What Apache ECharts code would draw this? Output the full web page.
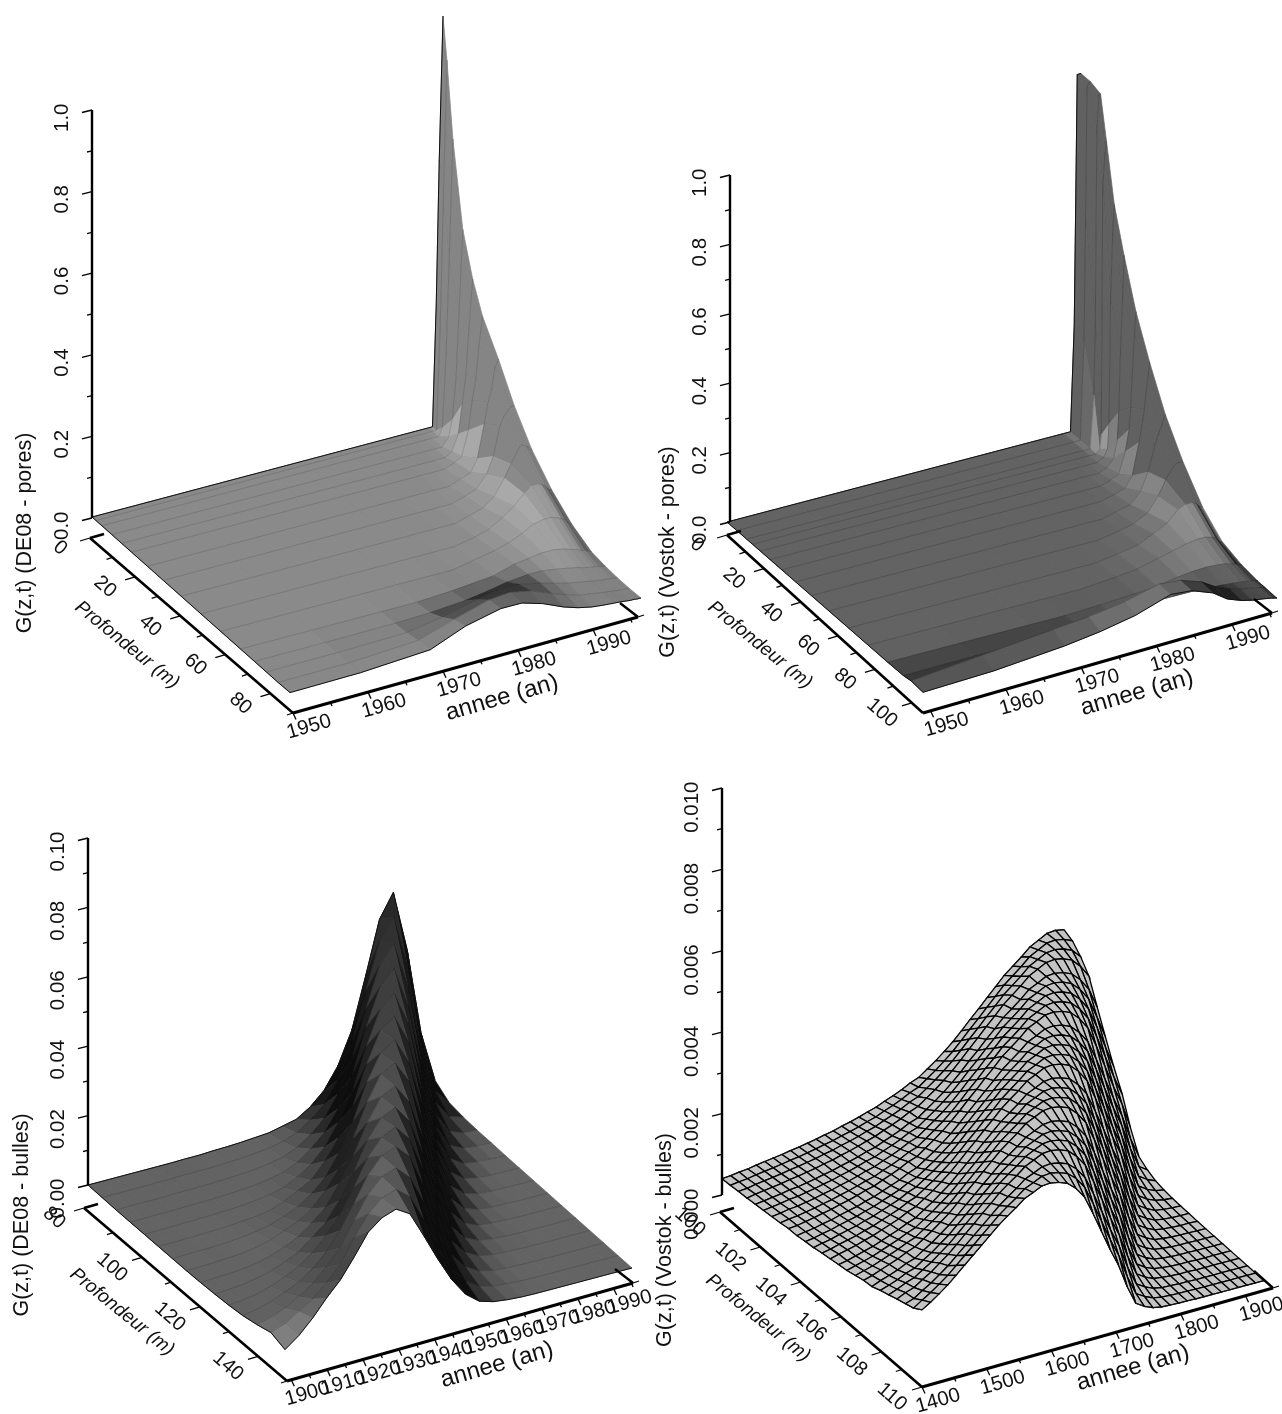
<!DOCTYPE html>
<html><head><meta charset="utf-8">
<script src="https://cdn.jsdelivr.net/npm/echarts@6/dist/echarts.min.js"></script>
<style>html,body{margin:0;padding:0;background:#fff}#c{width:1282px;height:1414px}</style>
</head><body><div id="c"></div>
<script>
// ---------- DATA ----------
// Panel A: DE08 pores, G in 1e-3
const yearsA=[1950,1959.4,1968.7,1973.4,1978.1,1980.9,1983.7,1986.5,1988.4,1990.2,1991.7,1993.1,1994,1994.9,1995.4,1995.9,1996.3,1996.8];
const depthsA=[0,1.8,4.5,9,13.5,18,25.2,32.4,40.5,49.5,58.5,67.5,73.8,79.2,84.6,90];
const gA=[
[0,0,0,0,0,0,0,0,0,0,0,0,0,0,0,300,650,1000],
[0,0,0,0,0,0,0,0,0,0,0,0,0,0,0,250,550,900],
[0,0,0,0,0,0,0,0,0,0,0,0,0,0,20,200,420,720],
[0,0,0,0,0,0,0,0,0,0,0,0,0,20,60,160,320,520],
[0,0,0,0,0,0,0,0,0,0,0,0,10,50,120,190,300,420],
[0,0,0,0,0,0,0,0,0,0,0,10,20,80,150,200,280,350],
[0,0,0,0,0,0,0,0,0,0,10,20,50,130,180,210,260,280],
[0,0,0,0,0,0,0,0,0,10,20,50,90,160,180,190,200,200],
[0,0,0,0,0,0,0,0,10,20,40,80,110,140,150,145,140,130],
[0,0,0,0,0,0,0,10,20,40,60,85,100,100,95,90,80,75],
[0,0,0,0,0,0,10,20,30,45,60,65,65,60,55,50,40,35],
[0,0,0,0,5,10,15,30,35,40,40,35,30,25,20,18,14,10],
[0,0,2,5,12,20,30,35,35,30,25,20,15,12,10,9,7,5],
[0,1,5,20,40,50,50,40,30,22,17,12,9,7,6,5,4,3],
[0,2,12,40,65,70,60,40,28,18,14,10,8,6,5,4,4,3],
[1,4,15,50,70,70,55,33,22,15,12,10,9,7,6,6,5,5]];

// Panel B: Vostok pores, G in 1e-3
const yearsB=[1950,1959.4,1968.8,1973.5,1978.2,1982.9,1985.7,1988.5,1990.4,1992.3,1993.7,1994.7,1995.6,1996.1,1996.3,1996.5,1996.8,1997];
const depthsB=[0,5.3,10.6,13.8,18,23.3,29.7,37.1,45.6,55.1,65.7,76.3,86.9,95.4,99.6,106];
const gB=[
[0,0,0,0,0,0,0,0,0,0,0,0,0,300,650,1010,1010,1010],
[0,0,0,0,0,0,0,0,0,0,0,0,0,280,620,1000,1010,1010],
[0,0,0,0,0,0,0,0,0,0,0,0,0,150,350,900,1000,1000],
[0,0,0,0,0,0,0,0,0,0,0,0,0,10,50,750,850,880],
[0,0,0,0,0,0,0,0,0,0,0,0,10,30,100,450,640,720],
[0,0,0,0,0,0,0,0,0,0,0,10,30,80,160,320,480,600],
[0,0,0,0,0,0,0,0,0,0,10,20,80,140,200,290,400,470],
[0,0,0,0,0,0,0,0,0,10,20,50,140,200,230,270,320,360],
[0,0,0,0,0,0,0,0,10,20,50,100,170,200,210,220,240,250],
[0,0,0,0,0,0,0,10,20,40,80,120,150,160,160,160,160,160],
[0,0,0,0,0,0,10,20,40,60,90,100,100,95,90,85,80,80],
[0,0,0,0,0,8,15,30,40,50,55,55,50,45,40,35,30,30],
[0,0,0,0,4,10,15,25,30,32,30,28,22,20,18,16,14,12],
[1,3,6,9,12,25,25,25,22,20,17,15,12,10,10,9,8,6],
[5,25,45,55,70,95,90,70,45,28,20,17,13,11,10,9,8,6],
[2,10,28,42,62,95,90,68,40,25,18,15,12,10,10,8,7,5]];

// Panel C: DE08 bubbles, G in 1e-4
const yearsC=[1900,1903.9,1907.8,1911.7,1915.6,1919.5,1923.4,1927.3,1931.2,1935.1,1939,1942.9,1946.8,1950.7,1954.6,1958.5,1962.4,1966.3,1970.2,1974.1,1978,1981.9,1985.8,1989.7,1993.6,1997.5];
const depthsC=[80,85,90,95,100,105,110,115,120,125,130,135,140,145,150];
const gC=[
[0,0,0,0,0,0,0,1,1,3,4,6,9,12,21,30,55,92,152,244,390,543,610,433,183,37],
[0,0,0,0,1,1,2,2,3,5,7,10,15,23,38,64,99,158,257,392,527,585,433,205,53,9],
[0,1,1,1,2,2,3,4,6,8,11,17,25,42,69,105,166,255,389,505,555,422,222,67,14,3],
[1,1,2,2,3,4,5,7,9,13,19,27,45,74,111,170,254,382,488,530,413,228,80,19,4,1],
[2,2,3,4,5,6,8,10,15,20,30,50,76,116,177,253,374,470,505,409,237,91,25,6,2,1],
[3,3,4,5,7,8,12,15,22,36,56,78,121,179,257,369,456,485,403,247,102,34,9,3,1,0],
[4,5,6,7,9,13,18,26,40,58,84,121,181,260,363,437,465,391,256,116,42,12,4,1,1,0],
[5,6,8,10,13,19,29,45,62,89,129,182,258,352,423,445,383,258,134,49,16,4,2,1,0,0],
[7,9,11,14,20,30,45,64,94,128,187,255,340,404,425,370,255,140,60,19,6,2,1,0,0,0],
[10,12,16,23,33,49,66,98,131,185,254,336,390,410,361,254,148,66,23,7,3,1,0,0,0,0],
[14,18,24,36,52,72,100,140,188,256,332,380,400,356,256,160,72,28,10,4,1,0,0,0,0,0],
[20,27,39,55,74,101,140,191,257,328,374,390,351,257,164,78,33,12,5,2,1,0,0,0,0,0],
[30,41,56,79,105,143,188,255,319,360,375,338,255,169,83,38,15,6,2,1,0,0,0,0,0,0],
[43,58,83,108,144,187,252,310,346,360,328,252,169,90,43,18,7,3,1,0,0,0,0,0,0,0],
[30,60,100,147,189,245,305,336,350,326,252,175,105,52,21,9,4,1,0,0,0,0,0,0,0,0]];

// Panel D: Vostok bubbles, G in 1e-5
const yearsD=[1400,1413.2,1426.4,1439.6,1452.8,1466,1479.2,1492.4,1505.6,1518.8,1532,1545.2,1558.4,1571.6,1584.8,1598,1611.2,1624.4,1637.6,1650.8,1664,1677.2,1690.4,1703.6,1716.8,1730,1743.2,1756.4,1769.6,1782.8,1796,1809.2,1822.4,1835.6,1848.8,1862,1875.2,1888.4,1901.6,1914.8,1928];
const depthsD=[100,100.42,100.83,101.25,101.67,102.08,102.5,102.92,103.33,103.75,104.17,104.58,105,105.42,105.83,106.25,106.67,107.08,107.5,107.92,108.33,108.75,109.17,109.58,110];
const gD=[
[40,42,45,47,51,54,57,60,64,67,71,75,80,84,90,95,101,108,114,123,131,140,151,159,174,189,206,224,245,267,288,310,331,353,370,387,406,417,428,430,426],
[42,45,47,51,54,57,60,64,67,71,75,80,84,90,95,101,108,114,123,131,140,151,159,174,189,206,224,245,267,288,310,331,353,370,387,406,417,428,430,426,417],
[45,47,51,54,57,60,64,67,71,75,80,84,90,95,101,108,114,123,131,140,151,159,174,189,206,224,245,267,288,310,331,353,370,387,406,417,428,430,426,417,396],
[47,51,54,57,60,64,67,71,75,80,84,90,95,101,108,114,123,131,140,151,159,174,189,206,224,245,267,288,310,331,353,370,387,406,417,428,430,426,417,396,366],
[50,53,56,59,63,65,69,73,78,82,88,93,99,106,111,120,128,137,148,155,170,185,201,219,239,261,281,303,323,345,361,378,397,407,418,420,416,407,387,358,307],
[53,56,59,63,65,69,73,78,82,88,93,99,106,111,120,128,137,148,155,170,185,201,219,239,261,281,303,323,345,361,378,397,407,418,420,416,407,387,358,307,252],
[56,59,63,65,69,73,78,82,88,93,99,106,111,120,128,137,148,155,170,185,201,219,239,261,281,303,323,345,361,378,397,407,418,420,416,407,387,358,307,252,197],
[59,63,65,69,73,78,82,88,93,99,106,111,120,128,137,148,155,170,185,201,219,239,261,281,303,323,345,361,378,397,407,418,420,416,407,387,358,307,252,197,148],
[63,65,69,73,78,82,88,93,99,106,111,120,128,137,148,155,170,185,201,219,239,261,281,303,323,345,361,378,397,407,418,420,416,407,387,358,307,252,197,148,84],
[64,68,71,76,80,86,91,96,103,109,117,125,133,144,152,166,180,196,213,233,254,274,295,315,336,353,369,387,397,408,410,406,397,377,349,299,246,193,144,82,32],
[68,71,76,80,86,91,96,103,109,117,125,133,144,152,166,180,196,213,233,254,274,295,315,336,353,369,387,397,408,410,406,397,377,349,299,246,193,144,82,32,18],
[71,76,80,86,91,96,103,109,117,125,133,144,152,166,180,196,213,233,254,274,295,315,336,353,369,387,397,408,410,406,397,377,349,299,246,193,144,82,32,18,9],
[76,80,86,91,96,103,109,117,125,133,144,152,166,180,196,213,233,254,274,295,315,336,353,369,387,397,408,410,406,397,377,349,299,246,193,144,82,32,18,9,5],
[80,86,91,96,103,109,117,125,133,144,152,166,180,196,213,233,254,274,295,315,336,353,369,387,397,408,410,406,397,377,349,299,246,193,144,82,32,18,9,5,3],
[84,88,94,100,106,114,122,130,140,148,162,176,192,208,228,248,268,288,308,328,344,360,378,388,398,400,396,388,368,340,292,240,188,140,80,32,18,8,5,3,2],
[88,94,100,106,114,122,130,140,148,162,176,192,208,228,248,268,288,308,328,344,360,378,388,398,400,396,388,368,340,292,240,188,140,80,32,18,8,5,3,2,2],
[94,100,106,114,122,130,140,148,162,176,192,208,228,248,268,288,308,328,344,360,378,388,398,400,396,388,368,340,292,240,188,140,80,32,18,8,5,3,2,2,1],
[100,106,114,122,130,140,148,162,176,192,208,228,248,268,288,308,328,344,360,378,388,398,400,396,388,368,340,292,240,188,140,80,32,18,8,5,3,2,2,1,1],
[103,112,119,127,137,144,158,171,187,203,222,242,261,281,300,320,336,351,368,378,388,390,386,378,359,332,285,234,183,137,78,31,17,8,5,3,2,2,1,1,1],
[112,119,127,137,144,158,171,187,203,222,242,261,281,300,320,336,351,368,378,388,390,386,378,359,332,285,234,183,137,78,31,17,8,5,3,2,2,1,1,1,1],
[119,127,137,144,158,171,187,203,222,242,261,281,300,320,336,351,368,378,388,390,386,378,359,332,285,234,183,137,78,31,17,8,5,3,2,2,1,1,1,1,1],
[127,137,144,158,171,187,203,222,242,261,281,300,320,336,351,368,378,388,390,386,378,359,332,285,234,183,137,78,31,17,8,5,3,2,2,1,1,1,1,1,1],
[134,141,155,168,183,199,218,237,256,275,294,313,329,344,361,370,380,382,378,370,352,325,279,229,179,134,76,30,17,8,4,3,2,2,1,1,1,1,1,1,1],
[141,155,168,183,199,218,237,256,275,294,313,329,344,361,370,380,382,378,370,352,325,279,229,179,134,76,30,17,8,4,3,2,2,1,1,1,1,1,1,1,1],
[155,168,183,199,218,237,256,275,294,313,329,344,361,370,380,382,378,370,352,325,279,229,179,134,76,30,17,8,4,3,2,2,1,1,1,1,1,1,1,1,1]];

// Tick labels
const ticksA={g:[0,0.2,0.4,0.6,0.8,1],gm:[0.1,0.3,0.5,0.7,0.9],gd:1,y:[1950,1960,1970,1980,1990],ym:[1955,1965,1975,1985,1995],d:[0,20,40,60,80],dm:[10,30,50,70,90]};
const ticksB={g:[0,0.2,0.4,0.6,0.8,1],gm:[0.1,0.3,0.5,0.7,0.9],gd:1,y:[1950,1960,1970,1980,1990],ym:[1955,1965,1975,1985,1995],d:[0,20,40,60,80,100],dm:[10,30,50,70,90]};
const ticksC={g:[0,0.02,0.04,0.06,0.08,0.1],gm:[0.01,0.03,0.05,0.07,0.09],gd:2,y:[1900,1910,1920,1930,1940,1950,1960,1970,1980,1990],ym:[1905,1915,1925,1935,1945,1955,1965,1975,1985,1995],d:[80,100,120,140],dm:[90,110,130,150]};
const ticksD={g:[0,0.002,0.004,0.006,0.008,0.01],gm:[0.001,0.003,0.005,0.007,0.009],gd:3,y:[1400,1500,1600,1700,1800,1900],ym:[1450,1550,1650,1750,1850],d:[100,102,104,106,108,110],dm:[101,103,105,107,109]};

// ---------- PROJECTION / LAYOUT ----------
const panels=[
{years:yearsA,depths:depthsA,g:gA,unit:1e-3,O:[92,517],U:[351,-93],V:[198,176],Z:408,Nu:70,Nv:50,lw:1,floor:0.48,gridA:0.22,
 yr:[1950,1996.8],dr:[0,90],ticks:ticksA,ax:{x:92,y0:518,y1:110,gr:[0,1],A0:[90,538],AV:[203,175],AU:[345,-96],ayr:[1950,1996],adr:[0,90],conn:[-18,-14]},
 title:'G(z,t) (DE08 - pores)',tp:[25,533],pp:[127,645],ap:[502,698]},
{years:yearsB,depths:depthsB,g:gB,unit:1e-3,O:[727,522],U:[354,-93],V:[196,171],Z:352,Nu:70,Nv:60,lw:1.2,floor:0.62,gridA:0.3,
 yr:[1950,1997],dr:[0,106],ticks:ticksB,ax:{x:730,y0:522,y1:175,gr:[0,1],A0:[727,535],AV:[196,178],AU:[349,-100],ayr:[1949,1995.3],adr:[0,106],conn:[-18,-14]},
 title:'G(z,t) (Vostok - pores)',tp:[668,552],pp:[760,645],ap:[1137,693]},
{years:yearsC,depths:depthsC,g:gC,unit:1e-4,O:[88,1185],U:[347,-92],V:[197,175],Z:3470,Nu:100,Nv:60,lw:1,floor:0,gridA:0.28,
 yr:[1900,1997.5],dr:[80,150],ticks:ticksC,ax:{x:88,y0:1185,y1:838,gr:[0,0.1],A0:[84,1208],AV:[203,173],AU:[346,-98],ayr:[1898.8,1995.4],adr:[80,150],conn:[-18,-14]},
 title:'G(z,t) (DE08 - bulles)',tp:[22,1215],pp:[122,1312],ap:[497,1365]},
{years:yearsD,depths:depthsD,g:gD,unit:1e-5,O:[722,1195],U:[342,-92],V:[200,178],Z:40700,mesh:true,
 yr:[1400,1928],dr:[100,110],ticks:ticksD,ax:{x:722,y0:1195,y1:788,gr:[0,0.01],A0:[720,1212],AV:[202,175],AU:[351,-99],ayr:[1400,1942.5],adr:[100,110],conn:[-19,-17]},
 title:'G(z,t) (Vostok - bulles)',tp:[665,1240],pp:[758,1318],ap:[1133,1368]}
];
const FONT='"Liberation Sans", Arial, sans-serif';

function project(p,yr,dp,val){
  const f=(yr-p.yr[0])/(p.yr[1]-p.yr[0]), d=(dp-p.dr[0])/(p.dr[1]-p.dr[0]);
  return [p.O[0]+f*p.U[0]+d*p.V[0], p.O[1]+f*p.U[1]+d*p.V[1]-val*p.unit*p.Z];
}
// Ink coverage of each cell: tone stands in for the original's very fine line mesh
function inkTable(p){
  const Y=p.years,D=p.depths,G=p.g,raw=[];
  for(let r=0;r<D.length-1;r++){
    raw.push([]);
    for(let c=0;c<Y.length-1;c++){
      const a=project(p,Y[c],D[r],G[r][c]),b=project(p,Y[c+1],D[r],G[r][c+1]),
            e=project(p,Y[c+1],D[r+1],G[r+1][c+1]),d=project(p,Y[c],D[r+1],G[r+1][c]);
      const ux=(b[0]-a[0]+e[0]-d[0])/2,uy=(b[1]-a[1]+e[1]-d[1])/2,vx=(d[0]-a[0]+e[0]-b[0])/2,vy=(d[1]-a[1]+e[1]-b[1])/2;
      const area=Math.abs(ux*vy-uy*vx);
      const nu=p.Nu*(Y[c+1]-Y[c])/(p.yr[1]-p.yr[0]),nv=p.Nv*(D[r+1]-D[r])/(p.dr[1]-p.dr[0]);
      raw[r].push(Math.min(1,p.lw*(Math.hypot(ux,uy)*nv+Math.hypot(vx,vy)*nu)/Math.max(area,0.01)));
    }
  }
  const out=raw.map((row,r)=>row.map((v,c)=>{
    let s=0,w=0;
    for(let i=-1;i<=1;i++)for(let j=-1;j<=1;j++){
      if(raw[r+i]&&raw[r+i][c+j]!==undefined){const k=(i===0?2:1)*(j===0?2:1);s+=raw[r+i][c+j]*k;w+=k;}
    }
    let cov=s/w;
    const gm=(G[r][c]+G[r][c+1]+G[r+1][c]+G[r+1][c+1])/4*p.unit*p.Z/ (p.Z);
    const level=Math.min(1,gm*p.Z/40);
    cov=Math.max(cov,p.floor*level);
    const t=Math.round(255*(1-Math.min(0.95,cov)));
    return 'rgb('+t+','+t+','+t+')';
  }));
  return out;
}
function surfaceSeries(p){
  const data=[];
  for(let r=0;r<p.depths.length-1;r++)
    for(let c=p.years.length-2;c>=0;c--) data.push([c,r]);
  const ink=p.mesh?null:inkTable(p);
  return {type:'custom',coordinateSystem:'cartesian2d',silent:true,clip:false,progressive:0,animation:false,
    data:data,
    renderItem:function(params,api){
      const c=api.value(0),r=api.value(1);
      const Y=p.years,D=p.depths,G=p.g;
      const a=project(p,Y[c],D[r],G[r][c]),b=project(p,Y[c+1],D[r],G[r][c+1]),
            e=project(p,Y[c+1],D[r+1],G[r+1][c+1]),d=project(p,Y[c],D[r+1],G[r+1][c]);
      const pts=[a,b,e,d].map(q=>api.coord(q));
      if(p.mesh){
        return {type:'polygon',shape:{points:pts},style:{fill:'#c4c4c4',stroke:'#000',lineWidth:1.3}};
      }
      const fill=ink[r][c];
      return {type:'group',children:[
        {type:'polygon',shape:{points:pts},style:{fill:fill,stroke:fill,lineWidth:0.7}},
        {type:'polyline',shape:{points:[pts[1],pts[0],pts[3]]},style:{fill:'none',stroke:'rgba(0,0,0,'+p.gridA+')',lineWidth:0.7}}
      ]};
    }};
}
function edgeSeries(p){
  const lines=[];
  const lastR=p.depths.length-1;
  lines.push(p.years.map((y,c)=>project(p,y,p.depths[lastR],p.g[lastR][c])));
  lines.push(p.depths.map((z,r)=>project(p,p.years[0],z,p.g[r][0])));
  lines.push(p.years.map((y,c)=>project(p,y,p.depths[0],p.g[0][c])));
  return lines.map(l=>({type:'line',data:l,showSymbol:false,silent:true,animation:false,clip:false,
    lineStyle:{color:'#111',width:1},z:3}));
}
function fmtG(v,dec){return v.toFixed(dec);}
function axisSeries(p){
  const a=p.ax,t=p.ticks;
  return {type:'custom',coordinateSystem:'cartesian2d',silent:true,clip:false,animation:false,z:4,data:[[0]],
    renderItem:function(params,api){
      const kids=[];
      const line=(x1,y1,x2,y2,w)=>{
        const s=api.coord([x1,y1]),e=api.coord([x2,y2]);
        kids.push({type:'line',shape:{x1:s[0],y1:s[1],x2:e[0],y2:e[1]},style:{stroke:'#000',lineWidth:w}});
      };
      const text=(str,x,y,rot,size,align,italic)=>{
        const q=api.coord([x,y]);
        kids.push({type:'text',x:q[0],y:q[1],rotation:rot*Math.PI/180,
          style:{text:str,fill:'#111',fontFamily:FONT,fontSize:size,fontStyle:italic?'italic':'normal',align:align||'center',verticalAlign:'middle'}});
      };
      // vertical axis
      const gy=v=>a.y0+(v-a.gr[0])/(a.gr[1]-a.gr[0])*(a.y1-a.y0);
      line(a.x,a.y0,a.x,a.y1,2.4);
      t.g.forEach(v=>{const y=gy(v);line(a.x,y,a.x-10,y+2.5,1.3);
        text(fmtG(v,t.gd),a.x-30,y-6.5,90,20.5,'right');});
      t.gm.forEach(v=>{const y=gy(v);line(a.x,y,a.x-5,y+1.2,1.3);});
      // depth axis
      const dpos=z=>{const k=(z-a.adr[0])/(a.adr[1]-a.adr[0]);return [a.A0[0]+k*a.AV[0],a.A0[1]+k*a.AV[1]];};
      const C=[a.A0[0]+a.AV[0],a.A0[1]+a.AV[1]];
      line(a.A0[0],a.A0[1],C[0],C[1],2.6);
      line(a.A0[0],a.A0[1],a.A0[0]+14,a.A0[1]-4,2.6);
      t.d.forEach(z=>{const q=dpos(z);line(q[0],q[1],q[0]-10,q[1]+3,1.3);
        text(String(z),q[0]-30,q[1]+10,-41,20);});
      t.dm.forEach(z=>{const q=dpos(z);line(q[0],q[1],q[0]-6,q[1]+2,1.3);});
      // year axis
      const ypos=v=>{const k=(v-a.ayr[0])/(a.ayr[1]-a.ayr[0]);return [C[0]+k*a.AU[0],C[1]+k*a.AU[1]];};
      const E=[C[0]+a.AU[0],C[1]+a.AU[1]];
      line(C[0],C[1],E[0],E[1],3);
      line(E[0],E[1],E[0]+a.conn[0],E[1]+a.conn[1],2.4);
      line(E[0],E[1],E[0]+6,E[1]-2,1.3);
      t.y.forEach(v=>{const q=ypos(v);line(q[0],q[1],q[0]+3,q[1]+6.5,1.3);
        text(String(v),q[0]+16,q[1]+14,16,20.5);});
      t.ym.forEach(v=>{const q=ypos(v);line(q[0],q[1],q[0]+1.5,q[1]+3.5,1.3);});
      // titles
      text(p.title,p.tp[0],p.tp[1],90,21.5);
      text('Profondeur (m)',p.pp[0],p.pp[1],-39,19,'center',true);
      text('annee (an)',p.ap[0],p.ap[1],16,24);
      return {type:'group',children:kids};
    }};
}
const series=[];
panels.forEach(p=>{series.push(surfaceSeries(p));edgeSeries(p).forEach(s=>series.push(s));series.push(axisSeries(p));});
const chart=echarts.init(document.getElementById('c'),null,{renderer:'canvas',width:1282,height:1414});
chart.setOption({
  backgroundColor:'#fff',animation:false,
  grid:{left:0,right:0,top:0,bottom:0},
  xAxis:{type:'value',min:0,max:1282,show:false},
  yAxis:{type:'value',min:0,max:1414,inverse:true,show:false},
  series:series
});
</script></body></html>
